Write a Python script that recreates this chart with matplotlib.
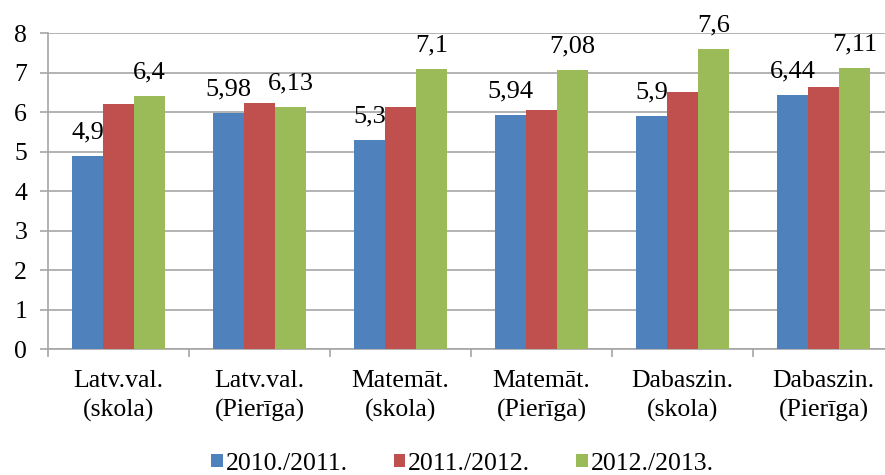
import matplotlib.pyplot as plt
import numpy as np

categories = ['Latv.val.\n(skola)', 'Latv.val.\n(Pierīga)', 'Matemāt.\n(skola)',
              'Matemāt.\n(Pierīga)', 'Dabaszin.\n(skola)', 'Dabaszin.\n(Pierīga)']
series_names = ['2010./2011.', '2011./2012.', '2012./2013.']
v_2010 = [4.9, 5.98, 5.3, 5.94, 5.9, 6.44]
v_2011 = [6.21, 6.24, 6.12, 6.06, 6.51, 6.63]
v_2012 = [6.4, 6.13, 7.1, 7.08, 7.6, 7.11]
colors = ['#4F81BD', '#C0504D', '#9BBB59']
show_labels = [True, False, True]

plt.rcParams['font.family'] = ['Liberation Serif', 'DejaVu Serif']

fig = plt.figure(figsize=(8.85, 4.75), dpi=100)
# right edge of the plot runs slightly past the image, as in the original
ax = fig.add_axes([0.0542, 0.265, 0.956, 0.665])

x = np.arange(len(categories))
w = 0.22
for i, (vals, name, c) in enumerate(zip([v_2010, v_2011, v_2012], series_names, colors)):
    bars = ax.bar(x + (i - 1) * w, vals, w, color=c, label=name, zorder=3)
    if show_labels[i]:
        for b, v in zip(bars, vals):
            ax.annotate(f'{v:g}'.replace('.', ','), (b.get_x() + b.get_width() / 2, v),
                        xytext=(0, 9), textcoords='offset points',
                        ha='center', va='bottom', fontsize=19)

ax.set_ylim(0, 8)
ax.set_xlim(-0.5, len(categories) - 0.5)
ax.set_yticks(range(0, 9))
ax.yaxis.grid(True, color='#A6A6A6', linewidth=1.2, zorder=0)
ax.set_xticks(x)
ax.set_xticklabels(categories, fontsize=18.5, linespacing=1.4)
ax.set_xticks(np.arange(-0.5, len(categories)), minor=True)
ax.tick_params(axis='x', which='major', length=0, pad=15)
ax.tick_params(axis='x', which='minor', length=6, width=1.2, color='#A6A6A6')
ax.tick_params(axis='y', labelsize=18.5, length=6, width=1.2, color='#A6A6A6', pad=9)
for s in ['top', 'right']:
    ax.spines[s].set_visible(False)
for s in ['left', 'bottom']:
    ax.spines[s].set_color('#A6A6A6')
    ax.spines[s].set_linewidth(1.2)

ax.legend(loc='lower center', bbox_to_anchor=(0.49, -0.43), ncol=3, frameon=False,
          fontsize=18.5, handlelength=0.45, handleheight=0.45, handletextpad=0.1,
          columnspacing=1.8, borderaxespad=0)

fig.savefig('out.png', dpi=100)
